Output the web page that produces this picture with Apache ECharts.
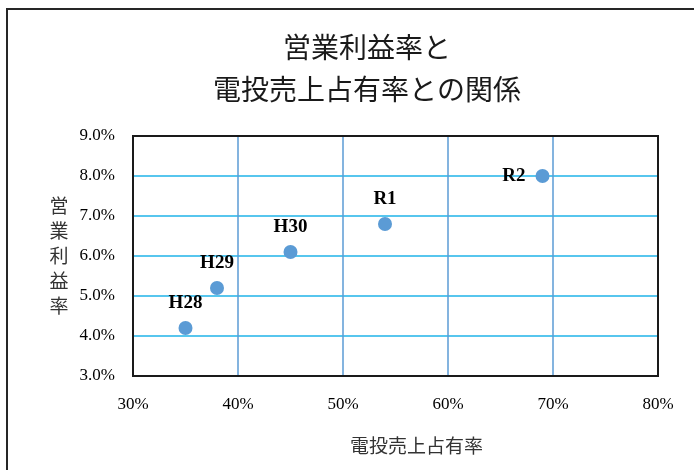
<!DOCTYPE html>
<html>
<head>
<meta charset="utf-8">
<script src="https://cdn.jsdelivr.net/npm/echarts@6/dist/echarts.min.js"></script>
<style>
  html, body { margin: 0; padding: 0; background: #fff; }
  #chart { width: 694px; height: 470px; }
</style>
</head>
<body>
<div id="chart"></div>
<script>
// Fiscal year labels and the two ratios (percent)
const years = ['H28', 'H29', 'H30', 'R1', 'R2'];
const shareValues = [35, 38, 45, 54, 69];          // 電投売上占有率 (%)
const marginValues = [4.2, 5.2, 6.1, 6.8, 8.0];    // 営業利益率 (%)
const labelSides = ['top', 'top', 'top', 'top', 'left'];

const titleText = '営業利益率と\n電投売上占有率との関係';
const xName = '電投売上占有率';
const yName = '営業利益率';

const serif = "'Liberation Serif', 'DejaVu Serif', 'Noto Sans CJK JP', serif";
const cjk = "'Noto Sans CJK JP', sans-serif";

const points = years.map((y, i) => ({
  name: y,
  value: [shareValues[i], marginValues[i]],
  label: {
    position: labelSides[i],
    distance: labelSides[i] === 'left' ? 10 : 8
  }
}));

const chart = echarts.init(document.getElementById('chart'), null, { renderer: 'canvas' });
chart.setOption({
  backgroundColor: '#ffffff',
  animation: false,
  title: {
    text: titleText,
    left: 362,
    top: 21,
    textAlign: 'center',
    textStyle: {
      fontFamily: cjk,
      fontWeight: 'normal',
      fontSize: 28,
      lineHeight: 42,
      color: '#1a1a1a'
    }
  },
  graphic: [{
    type: 'rect',
    shape: { x: 7, y: 9, width: 800, height: 600 },
    style: { fill: 'none', stroke: '#262626', lineWidth: 2 },
    silent: true,
    z: 100
  }],
  grid: {
    left: 133,
    top: 136,
    right: 36,
    bottom: 94,
    show: true,
    borderColor: '#1a1a1a',
    borderWidth: 2,
    z: 10
  },
  xAxis: {
    type: 'value',
    min: 30,
    max: 80,
    interval: 10,
    name: xName,
    nameLocation: 'middle',
    nameGap: 60,
    nameTextStyle: {
      fontFamily: cjk,
      fontSize: 19,
      color: '#333333',
      padding: [0, 0, 0, 42]
    },
    axisLine: { show: true, lineStyle: { color: '#1a1a1a', width: 2 } },
    axisTick: { show: false },
    axisLabel: {
      formatter: v => v + '%',
      fontFamily: serif,
      fontSize: 17,
      color: '#000000',
      margin: 20
    },
    splitLine: {
      show: true,
      showMinLine: false,
      showMaxLine: false,
      lineStyle: { color: '#5B9BD5', width: 1.5 }
    }
  },
  yAxis: {
    type: 'value',
    min: 3,
    max: 9,
    interval: 1,
    name: yName.split('').join('\n'),
    nameLocation: 'middle',
    nameRotate: 0,
    nameGap: 74,
    nameTextStyle: {
      fontFamily: cjk,
      fontSize: 19,
      lineHeight: 25,
      color: '#333333',
      align: 'center'
    },
    axisLine: { show: true, lineStyle: { color: '#1a1a1a', width: 2 } },
    axisTick: { show: false },
    axisLabel: {
      formatter: v => v.toFixed(1) + '%',
      fontFamily: serif,
      fontSize: 17,
      color: '#000000',
      margin: 18
    },
    splitLine: {
      show: true,
      showMinLine: false,
      showMaxLine: false,
      lineStyle: { color: '#1FB3E8', width: 1.5 }
    }
  },
  series: [{
    type: 'scatter',
    data: points,
    symbol: 'circle',
    symbolSize: 14,
    itemStyle: { color: '#5B9BD5', opacity: 1 },
    z: 20,
    label: {
      show: true,
      formatter: p => p.name,
      fontFamily: serif,
      fontWeight: 'bold',
      fontSize: 19,
      color: '#000000'
    }
  }]
});
</script>
</body>
</html>
